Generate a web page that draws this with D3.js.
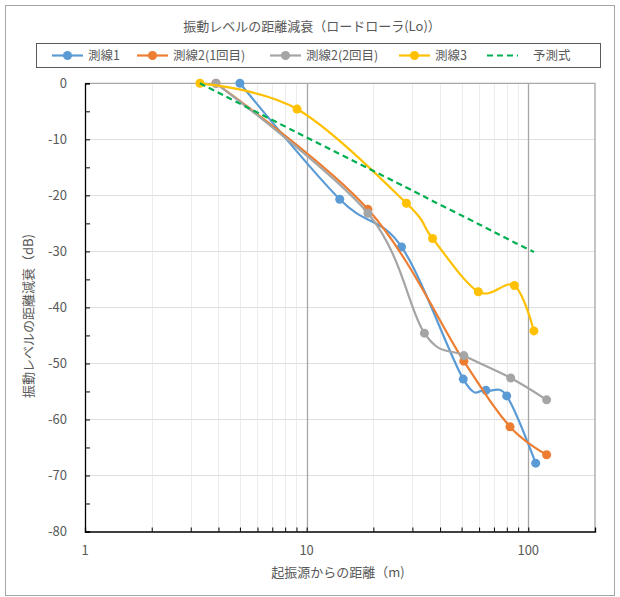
<!DOCTYPE html>
<html lang="ja">
<head>
<meta charset="UTF-8">
<script src="https://cdn.jsdelivr.net/npm/d3@7"></script>
<style>
  body { margin: 0; background: #fff; }
  svg { font-family: "Noto Sans CJK JP", "Noto Sans", sans-serif; }
  .tick-label { font-size: 13px; fill: #595959; }
</style>
</head>
<body>
<svg id="chart" width="620" height="597"></svg>
<script>
// data
const line1X = [5, 14.1, 26.8, 50.9, 64.4, 79.9, 108];
const line1Y = [0, -20.7, -29.2, -52.8, -54.8, -55.8, -67.8];
const line2aX = [3.9, 18.9, 51.2, 82.7, 121];
const line2aY = [0, -22.5, -49.6, -61.3, -66.3];
const line2bX = [3.9, 18.9, 34, 51.2, 83.3, 121];
const line2bY = [0, -23.2, -44.6, -48.6, -52.6, -56.5];
const line3X = [3.3, 9.05, 28.2, 37, 59.5, 86.6, 106];
const line3Y = [0, -4.6, -21.4, -27.7, -37.2, -36.1, -44.2];
const predX = [3.3, 9.05, 28.2, 37, 59.5, 86.6, 106];
const predY = [0, -8.8, -18.6, -21.0, -25.1, -28.4, -30.1];

const seriesNames = ["測線1", "測線2(1回目)", "測線2(2回目)", "測線3", "予測式"];
const seriesColors = ["#5b9bd5", "#ed7d31", "#a5a5a5", "#ffc000", "#00b050"];
const yTicks = [0, -10, -20, -30, -40, -50, -60, -70, -80];
const xTicks = [1, 10, 100];

const series = [
  { x: line1X, y: line1Y },
  { x: line2aX, y: line2aY },
  { x: line2bX, y: line2bY },
  { x: line3X, y: line3Y },
  { x: predX, y: predY, dashed: true }
].map((s, i) => ({
  name: seriesNames[i],
  color: seriesColors[i],
  dashed: !!s.dashed,
  pts: s.x.map((v, j) => [v, s.y[j]])
}));

const svg = d3.select("#chart");
const plotLeft = 85, plotRight = 595, plotTop = 83.3, plotBottom = 531.5;

// outer frame
svg.append("rect")
  .attr("x", 5.5).attr("y", 5.5).attr("width", 609).attr("height", 590)
  .attr("fill", "#fff").attr("stroke", "#a6a6a6");

const x = d3.scaleLog().domain([1, 200]).range([plotLeft, plotRight]);
const y = d3.scaleLinear().domain([-80, 0]).range([plotBottom, plotTop]);

// minor vertical grid
const minorX = [];
[1, 10, 100].forEach(d => { for (let k = 2; k <= 9; k++) if (d * k < 200) minorX.push(d * k); });
svg.append("g").selectAll("line").data(minorX).join("line")
  .attr("x1", d => Math.round(x(d)) + 0.5).attr("x2", d => Math.round(x(d)) + 0.5)
  .attr("y1", plotTop).attr("y2", plotBottom)
  .attr("stroke", "#ececec");

// horizontal grid
svg.append("g").selectAll("line").data(yTicks.filter(d => d > -80 && d < 0)).join("line")
  .attr("x1", plotLeft).attr("x2", plotRight)
  .attr("y1", d => Math.round(y(d)) + 0.5).attr("y2", d => Math.round(y(d)) + 0.5)
  .attr("stroke", "#dedede");

// major vertical grid
svg.append("g").selectAll("line").data([10, 100]).join("line")
  .attr("x1", d => Math.round(x(d)) + 0.5).attr("x2", d => Math.round(x(d)) + 0.5)
  .attr("y1", plotTop).attr("y2", plotBottom)
  .attr("stroke", "#a6a6a6").attr("stroke-width", 1.3);

// plot border (top / right)
svg.append("path")
  .attr("d", `M${plotLeft},${plotTop}H${plotRight}V${plotBottom}`)
  .attr("fill", "none").attr("stroke", "#a6a6a6").attr("stroke-width", 1.3);

// y axis
const yAxis = svg.append("g").attr("transform", `translate(${plotLeft},0)`)
  .call(d3.axisRight(y).tickValues(d3.range(-80, 1, 5)).tickSize(5).tickFormat(""));
yAxis.select(".domain").attr("stroke", "#000").attr("stroke-width", 1.3);
yAxis.selectAll(".tick line").attr("stroke", "#000");
svg.append("g").selectAll("text").data(yTicks).join("text")
  .attr("class", "tick-label")
  .attr("x", 67).attr("y", d => y(d) + 4.5)
  .attr("text-anchor", "end")
  .text(d => d);

// x axis
const xAxis = svg.append("g").attr("transform", `translate(0,${plotBottom})`)
  .call(d3.axisTop(x).tickValues(xTicks.concat(minorX)).tickSize(4).tickFormat(""));
xAxis.select(".domain").attr("stroke", "#000").attr("stroke-width", 1.3);
xAxis.selectAll(".tick line").attr("stroke", "#000");
svg.append("g").selectAll("text").data(xTicks).join("text")
  .attr("class", "tick-label")
  .attr("x", d => x(d)).attr("y", 555)
  .attr("text-anchor", "middle")
  .text(d => d);

// axis titles
svg.append("text")
  .attr("x", 338).attr("y", 577)
  .attr("text-anchor", "middle")
  .attr("font-size", 13).attr("fill", "#595959")
  .text("起振源からの距離（m)");
svg.append("text")
  .attr("transform", "translate(33,316) rotate(-90)")
  .attr("text-anchor", "middle")
  .attr("font-size", 13).attr("fill", "#595959")
  .text("振動レベルの距離減衰（dB)");

// title
svg.append("text")
  .attr("x", 312).attr("y", 31)
  .attr("text-anchor", "middle")
  .attr("font-size", 13).attr("fill", "#595959")
  .text("振動レベルの距離減衰（ロードローラ(Lo)）");

// series
const line = d3.line()
  .x(d => x(d[0])).y(d => y(d[1]))
  .curve(d3.curveCardinal.tension(0));

const plot = svg.append("g");
series.forEach(s => {
  plot.append("path")
    .attr("d", line(s.pts))
    .attr("fill", "none")
    .attr("stroke", s.color)
    .attr("stroke-width", 2.2)
    .attr("stroke-dasharray", s.dashed ? "6,4" : null);
  if (!s.dashed) {
    plot.append("g").selectAll("circle").data(s.pts).join("circle")
      .attr("cx", d => x(d[0])).attr("cy", d => y(d[1]))
      .attr("r", 4.5).attr("fill", s.color);
  }
});

// legend
const legend = svg.append("g");
legend.append("rect")
  .attr("x", 36.5).attr("y", 43.5).attr("width", 564).attr("height", 24)
  .attr("fill", "#fff").attr("stroke", "#595959");
const legendPos = [52, 137, 270, 399, 487];
series.forEach((s, i) => {
  const lx = legendPos[i];
  legend.append("line")
    .attr("x1", lx).attr("x2", lx + 31).attr("y1", 55.5).attr("y2", 55.5)
    .attr("stroke", s.color).attr("stroke-width", 2.2)
    .attr("stroke-dasharray", s.dashed ? "6,4" : null);
  if (!s.dashed) {
    legend.append("circle").attr("cx", lx + 15.5).attr("cy", 55.5).attr("r", 4.5).attr("fill", s.color);
  }
  legend.append("text")
    .attr("x", lx + (s.dashed ? 46 : 36)).attr("y", 60)
    .attr("font-size", 12.5).attr("fill", "#595959")
    .text(s.name);
});
</script>
</body>
</html>
